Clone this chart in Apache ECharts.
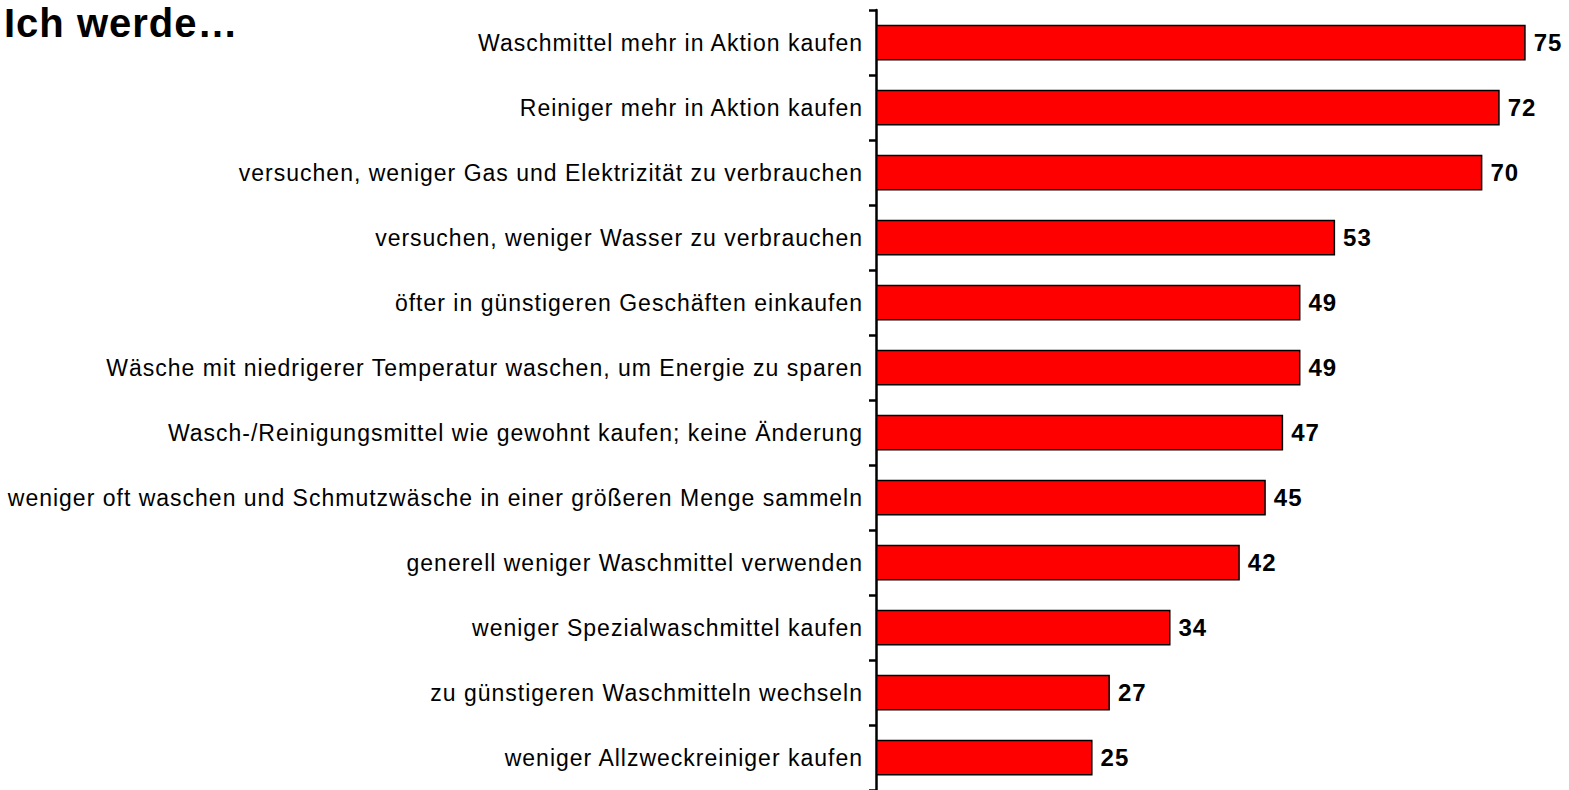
<!DOCTYPE html>
<html>
<head>
<meta charset="utf-8">
<script src="https://cdn.jsdelivr.net/npm/echarts@6/dist/echarts.min.js"></script>
<style>
html,body{margin:0;padding:0;background:#fff;}
#chart{width:1569px;height:790px;}
#chart text{letter-spacing:1px;}
</style>
</head>
<body>
<div id="chart"></div>
<script>
const titleText = 'Ich werde…';
const categories = [
  'Waschmittel mehr in Aktion kaufen',
  'Reiniger mehr in Aktion kaufen',
  'versuchen, weniger Gas und Elektrizität zu verbrauchen',
  'versuchen, weniger Wasser zu verbrauchen',
  'öfter in günstigeren Geschäften einkaufen',
  'Wäsche mit niedrigerer Temperatur waschen, um Energie zu sparen',
  'Wasch-/Reinigungsmittel wie gewohnt kaufen; keine Änderung',
  'weniger oft waschen und Schmutzwäsche in einer größeren Menge sammeln',
  'generell weniger Waschmittel verwenden',
  'weniger Spezialwaschmittel kaufen',
  'zu günstigeren Waschmitteln wechseln',
  'weniger Allzweckreiniger kaufen'
];
const values = [75, 72, 70, 53, 49, 49, 47, 45, 42, 34, 27, 25];

const chart = echarts.init(document.getElementById('chart'), null, {renderer: 'svg'});
chart.setOption({
  backgroundColor: '#ffffff',
  animation: false,
  title: {
    text: titleText,
    left: 4,
    top: 8,
    padding: 0,
    textStyle: {fontFamily: 'Liberation Sans, Arial, sans-serif', fontSize: 40, lineHeight: 30, fontWeight: 'bold', color: '#000'}
  },
  grid: {left: 876, top: 10, width: 697, height: 784, containLabel: false},
  xAxis: {
    type: 'value', min: 0, max: 80, show: false
  },
  yAxis: {
    type: 'category',
    data: categories,
    inverse: true,
    axisLine: {show: true, lineStyle: {color: '#000', width: 2.5}},
    axisTick: {show: true, inside: false, length: 7, lineStyle: {color: '#000', width: 2.5}},
    axisLabel: {
      margin: 13,
      fontFamily: 'Liberation Sans, Arial, sans-serif',
      fontSize: 23,
      color: '#000'
    },
    splitLine: {show: false}
  },
  series: [{
    type: 'bar',
    data: values,
    barCategoryGap: '45%',
    itemStyle: {color: '#ff0000', borderColor: '#000', borderWidth: 1.5},
    label: {
      show: true,
      position: 'right',
      distance: 8,
      fontFamily: 'Liberation Sans, Arial, sans-serif',
      fontSize: 24,
      fontWeight: 'bold',
      color: '#000'
    }
  }]
});
</script>
</body>
</html>
